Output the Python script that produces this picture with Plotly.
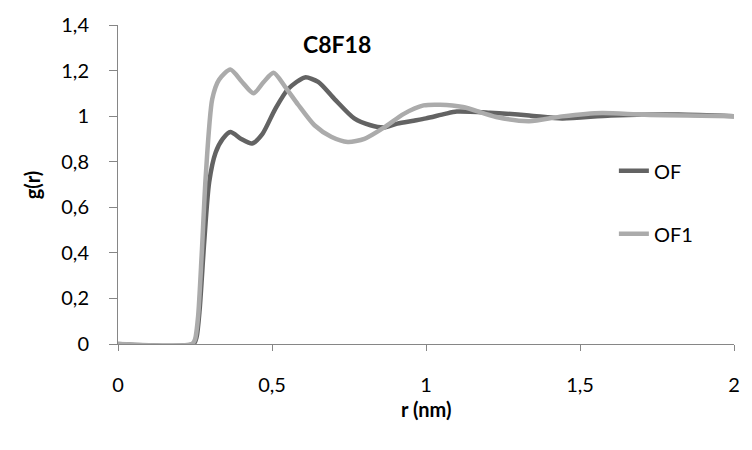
import plotly.graph_objects as go

# Data
of_r = [0, 0.245, 0.255, 0.265, 0.28, 0.296, 0.317, 0.34, 0.365, 0.40, 0.435, 0.468, 0.51, 0.553,
        0.607, 0.65, 0.703, 0.767, 0.82, 0.864, 0.907, 0.96, 1.0, 1.062, 1.10, 1.207, 1.335, 1.442,
        1.6, 1.82, 2.0]
of_g = [0, 0, 0.03, 0.15, 0.45, 0.71, 0.84, 0.90, 0.93, 0.90, 0.88, 0.92, 1.03, 1.12,
        1.17, 1.15, 1.075, 0.99, 0.96, 0.95, 0.967, 0.98, 0.99, 1.01, 1.02, 1.015, 1.003, 0.99,
        1.003, 1.007, 1.0]

of1_r = [0, 0.24, 0.25, 0.26, 0.272, 0.285, 0.306, 0.328, 0.365, 0.403, 0.44, 0.473, 0.505, 0.542,
         0.585, 0.638, 0.692, 0.746, 0.80, 0.864, 0.928, 0.992, 1.046, 1.12, 1.228, 1.335, 1.442,
         1.571, 1.71, 2.0]
of1_g = [0, 0, 0.02, 0.12, 0.40, 0.74, 1.075, 1.16, 1.205, 1.15, 1.10, 1.15, 1.19, 1.13,
         1.05, 0.96, 0.91, 0.887, 0.90, 0.95, 1.01, 1.047, 1.05, 1.04, 0.996, 0.978, 0.999,
         1.014, 1.006, 1.0]

x_ticks = [0, 0.5, 1, 1.5, 2]
y_ticks = [0, 0.2, 0.4, 0.6, 0.8, 1, 1.2, 1.4]

FONT = "Lato"
AXIS_COLOR = "#868686"

fig = go.Figure()
fig.add_trace(go.Scatter(x=of_r, y=of_g, mode="lines", name="OF", legendgroup="a",
                         line=dict(color="#636363", width=4.5, shape="spline", smoothing=0.7)))
fig.add_trace(go.Scatter(x=of1_r, y=of1_g, mode="lines", name="OF1", legendgroup="b",
                         line=dict(color="#ABABAB", width=4.5, shape="spline", smoothing=0.7)))

fig.update_layout(
    width=752, height=450,
    margin=dict(l=118, r=12, t=22, b=106),
    paper_bgcolor="white", plot_bgcolor="white",
    separators=", ",
    font=dict(family=FONT, size=20, color="#000000"),
    showlegend=True,
    legend=dict(x=0.805, y=0.604, xanchor="left", yanchor="top", bgcolor="rgba(0,0,0,0)",
                font=dict(family=FONT, size=20, color="#000000"), tracegroupgap=34),
    annotations=[
        dict(text="<b>C8F18</b>", x=0.355, y=0.941, xref="paper", yref="paper",
             xanchor="center", yanchor="middle",
             showarrow=False, font=dict(family=FONT, size=23, color="#000000")),
        dict(text="<b>r (nm)</b>", x=0.5, y=-0.205, xref="paper", yref="paper",
             xanchor="center", yanchor="middle",
             showarrow=False, font=dict(family=FONT, size=20, color="#000000")),
        dict(text="<b>g(r)</b>", x=-0.14, y=0.5, xref="paper", yref="paper", textangle=-90,
             xanchor="center", yanchor="middle",
             showarrow=False, font=dict(family=FONT, size=20, color="#000000")),
    ],
)

fig.update_xaxes(
    range=[0, 2], tickvals=x_ticks, showgrid=False, zeroline=False,
    showline=True, linecolor=AXIS_COLOR, linewidth=1,
    ticks="outside", ticklen=6, tickcolor=AXIS_COLOR, ticklabelstandoff=17,
    tickfont=dict(family=FONT, size=20, color="#000000"),
)
fig.update_yaxes(
    range=[0, 1.4], tickvals=y_ticks, showgrid=False, zeroline=False,
    showline=True, linecolor=AXIS_COLOR, linewidth=1,
    ticks="outside", ticklen=8, tickcolor=AXIS_COLOR, ticklabelstandoff=16,
    tickfont=dict(family=FONT, size=20, color="#000000"),
)

fig.write_html("out.html")
